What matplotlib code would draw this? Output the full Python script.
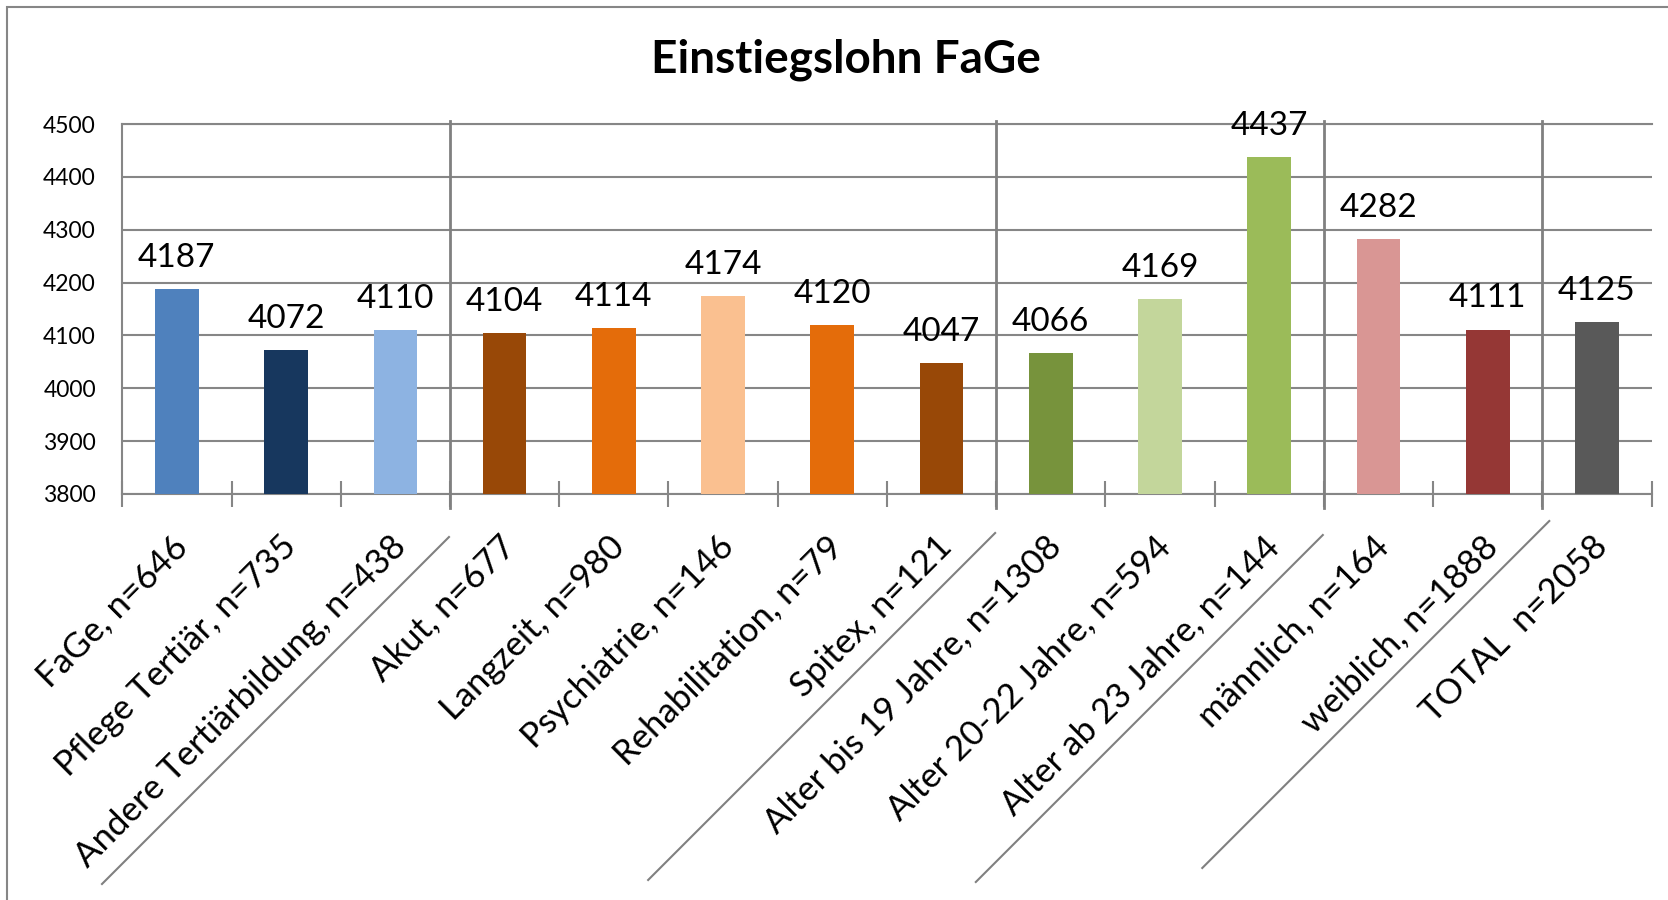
import numpy as np
import matplotlib
matplotlib.use('Agg')
import matplotlib.pyplot as plt
from matplotlib.lines import Line2D
from matplotlib.patches import Rectangle
from matplotlib.transforms import ScaledTranslation

plt.rcParams['font.family'] = ['Lato', 'DejaVu Sans']

# data
categories = ['FaGe, n=646', 'Pflege Tertiär, n=735', 'Andere Tertiärbildung, n=438',
              'Akut, n=677', 'Langzeit, n=980', 'Psychiatrie, n=146', 'Rehabilitation, n=79',
              'Spitex, n=121', 'Alter bis 19 Jahre, n=1308', 'Alter 20-22 Jahre, n=594',
              'Alter ab 23 Jahre, n=144', 'männlich, n=164', 'weiblich, n=1888', 'TOTAL  n=2058']
values = [4187, 4072, 4110, 4104, 4114, 4174, 4120, 4047, 4066, 4169, 4437, 4282, 4111, 4125]
group_sizes = [3, 5, 3, 2, 1]
bar_colors = ['#4F81BD', '#17375E', '#8DB3E2', '#984807', '#E46C0A', '#FAC090', '#E46C0A',
              '#984807', '#77933C', '#C3D69B', '#9BBB59', '#D99694', '#953735', '#595959']
y_ticks = [3800, 3900, 4000, 4100, 4200, 4300, 4400, 4500]
title = 'Einstiegslohn FaGe'

W, H = 1668, 900
grid_col = '#868686'

fig = plt.figure(figsize=(W / 100, H / 100), dpi=100)
fig.patch.set_facecolor('white')
ax = fig.add_axes([122.3 / W, 1 - 494 / H, (1651.5 - 122.3) / W, (494 - 124) / H])

x = np.arange(len(values))
ax.bar(x, [v - y_ticks[0] for v in values], bottom=y_ticks[0], width=0.40,
       color=bar_colors, zorder=3)

ax.set_xlim(-0.5, len(values) - 0.5)
ax.set_ylim(y_ticks[0], y_ticks[-1])
ax.set_yticks(y_ticks)
ax.yaxis.grid(True, color=grid_col, lw=1.5, zorder=0)
ax.set_axisbelow(True)

ax.spines['right'].set_visible(False)
for s in ['left', 'bottom', 'top']:
    ax.spines[s].set_color(grid_col)
    ax.spines[s].set_linewidth(1.5)

ax.tick_params(axis='y', length=0, pad=19, labelsize=16.5, labelcolor='black')
ax.set_xticks(x)
ax.set_xticklabels(categories, fontsize=25)
ax.tick_params(axis='x', which='major', length=0, pad=26)
shift = ScaledTranslation(-0.06, 0.0, fig.dpi_scale_trans)
for lab in ax.get_xticklabels():
    lab.set_rotation(45)
    lab.set_ha('right')
    lab.set_va('top')
    lab.set_rotation_mode('anchor')
    lab.set_transform(lab.get_transform() + shift)
ax.set_xticks(np.arange(-0.5, len(values)), minor=True)
ax.tick_params(axis='x', which='minor', direction='inout', length=19, width=1.5, color=grid_col)

# data labels
for xi, v in zip(x, values):
    ax.annotate(str(v), (xi, v), xytext=(0, 16), textcoords='offset points',
                ha='center', va='baseline', fontsize=24, color='black', zorder=5)

# group separators
bounds = np.cumsum(group_sizes)[:-1] - 0.5
for b in bounds:
    ax.add_line(Line2D([b, b], [-0.038, 1.008], transform=ax.get_xaxis_transform(),
                       color='#808080', lw=2, clip_on=False, zorder=4))

# diagonal separators under the labels (pixel offsets from axis)
diag_offsets = [(-1, 43), (-1, 39), (-1, 41), (7, 27)]
diag_len = 347
for b, (dx0, dy0) in zip(bounds, diag_offsets):
    px, py = ax.transData.transform((b, y_ticks[0]))
    x0, y0 = px + dx0, py - dy0
    fig.add_artist(Line2D([x0 / W, (x0 - diag_len) / W], [y0 / H, (y0 - diag_len) / H],
                          transform=fig.transFigure, color='#808080', lw=1.5))

# title and chart frame
fig.text(846 / W, 1 - 60 / H, title, ha='center', va='center', fontsize=33, fontweight='bold')
fig.add_artist(Rectangle((7 / W, -0.05), 1.2, 1 - 6.5 / H + 0.05, transform=fig.transFigure,
                         fill=False, edgecolor=grid_col, lw=1.5))

fig.savefig('out.png', dpi=100)
